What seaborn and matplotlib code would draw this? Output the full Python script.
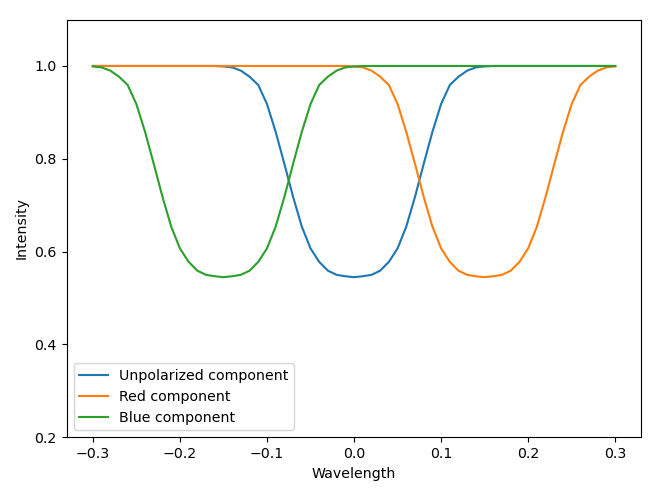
import matplotlib
matplotlib.use("Agg")
import matplotlib.pyplot as plt
import seaborn as sns
import numpy as np
import pandas as pd

wavelength = [round(-0.30 + 0.01 * i, 2) for i in range(61)]

unpolarized = [1.0, 1.0, 1.0, 1.0, 1.0, 1.0, 1.0, 1.0, 1.0, 1.0,
               1.0, 1.0, 1.0, 1.0, 1.0, 0.999, 0.997, 0.990, 0.977, 0.959,
               0.918, 0.858, 0.789, 0.718, 0.654, 0.607, 0.578, 0.559, 0.550, 0.547,
               0.545,
               0.547, 0.550, 0.559, 0.578, 0.607, 0.654, 0.718, 0.789, 0.858, 0.918,
               0.959, 0.977, 0.990, 0.997, 0.999, 1.0, 1.0, 1.0, 1.0, 1.0,
               1.0, 1.0, 1.0, 1.0, 1.0, 1.0, 1.0, 1.0, 1.0, 1.0]

red = [1.0, 1.0, 1.0, 1.0, 1.0, 1.0, 1.0, 1.0, 1.0, 1.0,
       1.0, 1.0, 1.0, 1.0, 1.0, 1.0, 1.0, 1.0, 1.0, 1.0,
       1.0, 1.0, 1.0, 1.0, 1.0, 1.0, 1.0, 1.0, 1.0, 1.0,
       0.999, 0.997, 0.990, 0.977, 0.959, 0.918, 0.858, 0.789, 0.718, 0.654,
       0.607, 0.578, 0.559, 0.550, 0.547, 0.545, 0.547, 0.550, 0.559, 0.578,
       0.607, 0.654, 0.718, 0.789, 0.858, 0.918, 0.959, 0.977, 0.990, 0.997,
       0.999]

blue = [0.999, 0.997, 0.990, 0.977, 0.959, 0.918, 0.858, 0.789, 0.718, 0.654,
        0.607, 0.578, 0.559, 0.550, 0.547, 0.545, 0.547, 0.550, 0.559, 0.578,
        0.607, 0.654, 0.718, 0.789, 0.858, 0.918, 0.959, 0.977, 0.990, 0.997,
        0.999, 1.0, 1.0, 1.0, 1.0, 1.0, 1.0, 1.0, 1.0, 1.0,
        1.0, 1.0, 1.0, 1.0, 1.0, 1.0, 1.0, 1.0, 1.0, 1.0,
        1.0, 1.0, 1.0, 1.0, 1.0, 1.0, 1.0, 1.0, 1.0, 1.0,
        1.0]

labels = ["Unpolarized component", "Red component", "Blue component"]

frames = []
for lab, vals in zip(labels, [unpolarized, red, blue]):
    frames.append(pd.DataFrame({"Wavelength": wavelength, "Intensity": vals, "component": lab}))
df = pd.concat(frames, ignore_index=True)

fig = plt.figure(figsize=(6.4, 4.8225), dpi=101.4)
ax = fig.add_axes([0.1028, 0.1057, 0.8855, 0.8543])
sns.lineplot(data=df, x="Wavelength", y="Intensity", hue="component",
             hue_order=labels, palette=["#1f77b4", "#ff7f0e", "#2ca02c"],
             ax=ax, linewidth=1.5)
ax.set_ylim(0.2, 1.1)
ax.set_xlim(-0.33, 0.33)
ax.set_xticks([-0.3, -0.2, -0.1, 0.0, 0.1, 0.2, 0.3])
ax.set_yticks([0.2, 0.4, 0.6, 0.8, 1.0])
ax.set_xlabel("Wavelength")
ax.set_ylabel("Intensity")
ax.legend(loc="lower left", title=None)
fig.savefig("out.png", dpi=101.4)
